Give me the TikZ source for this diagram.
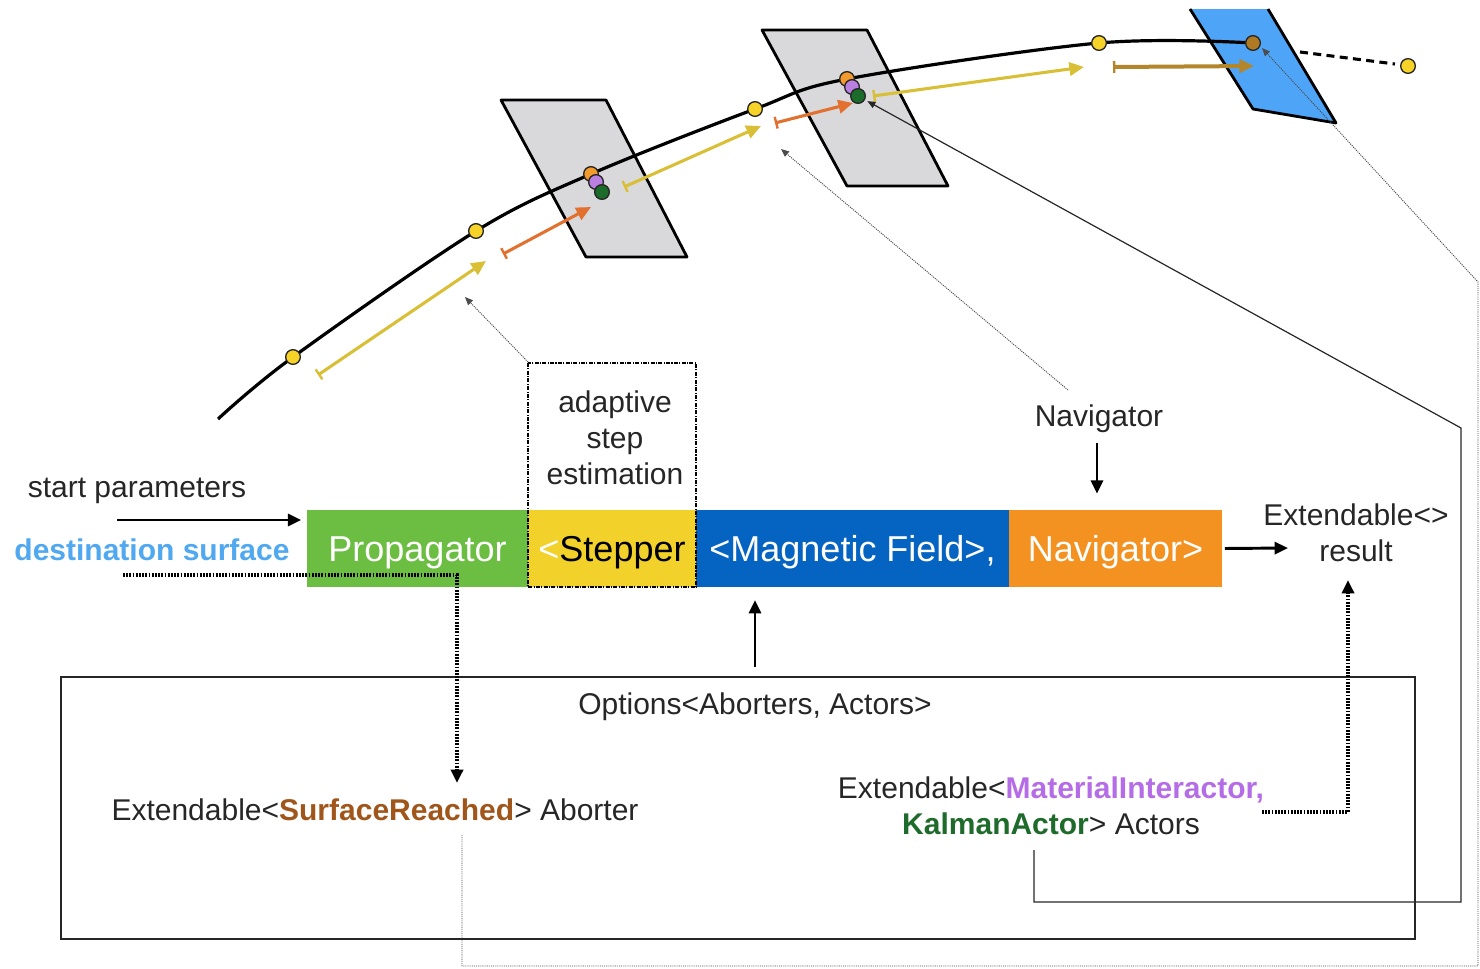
\documentclass[tikz,border=0pt]{standalone}
\usepackage{fontspec}
\setmainfont{Liberation Sans}
\usetikzlibrary{arrows.meta,calc}
\definecolor{pgreen}{HTML}{6CBE43}
\definecolor{pyellow}{HTML}{F2D12B}
\definecolor{pblue}{HTML}{0563C1}
\definecolor{porange}{HTML}{F39220}
\definecolor{destblue}{HTML}{4FA8F0}
\definecolor{brownT}{HTML}{A0561B}
\definecolor{purpleT}{HTML}{B46DE6}
\definecolor{greenT}{HTML}{1E6B2B}
\definecolor{ydot}{HTML}{F7D328}
\definecolor{stepY}{HTML}{D8BF35}
\definecolor{stepO}{HTML}{E2702F}
\definecolor{stepB}{HTML}{B3862B}
\definecolor{bdotc}{HTML}{B07A24}
\definecolor{pdotc}{HTML}{B980E0}
\definecolor{gdotc}{HTML}{1B6B2A}
\definecolor{odotc}{HTML}{F39A2C}
\definecolor{graysurf}{HTML}{D9D9DC}
\definecolor{bluesurf}{HTML}{4EA4F6}
\tikzset{
  lbl/.style={font=\fontsize{22.5}{27}\selectfont, inner sep=0pt, text=black!85},
  barbox/.style={rectangle, inner sep=0pt, minimum height=57.75pt, text height=20pt, text depth=1pt, font=\fontsize{27}{32}\selectfont, text=white},
  dotnode/.style={circle, draw=black!85, line width=1pt, minimum size=11pt, inner sep=0pt},
  surfline/.style={draw=black, line width=2.1pt, line join=round},
  traj/.style={draw=black, line width=2.4pt},
  bigarrow/.style={draw=black, line width=2.2pt, -{Triangle[length=10pt,width=9pt]}},
  bigdots/.style={draw=black, line width=2.8pt, dash pattern=on 1.3pt off 1.1pt, -{Triangle[length=10pt,width=9pt]}},
  stepar/.style={line width=2.3pt, {Bar[width=9pt,line width=1.8pt]}-{Triangle[length=11pt,width=10pt]}},
  thinline/.style={draw=black!85, line width=0.9pt},
  graydot/.style={draw=black!70, line width=0.7pt, dash pattern=on 0.8pt off 0.8pt},
  smalltip/.style={-{Triangle[length=6pt,width=5pt]}}
}
\begin{document}
\begin{tikzpicture}[x=0.75pt,y=-0.75pt]
\useasboundingbox (0,0) rectangle (1480,968);

% ---- surfaces ----
\fill[graysurf] (501,100) -- (606,100) -- (687,257) -- (586,257) -- cycle;
\draw[surfline] (501,100) -- (606,100) -- (687,257) -- (586,257) -- cycle;
\fill[graysurf] (762,30) -- (867,30) -- (948,186) -- (847,186) -- cycle;
\draw[surfline] (762,30) -- (867,30) -- (948,186) -- (847,186) -- cycle;
\fill[bluesurf] (1190,9) -- (1268,9) -- (1336,123) -- (1253,109) -- cycle;
\draw[surfline] (1190,9) -- (1253,109) -- (1336,123) -- (1268,9);

% ---- trajectory ----
\draw[traj] plot[smooth, tension=0.55] coordinates {(218,419) (293,357) (476,231) (591,174) (755,109) (847,79) (1099,43) (1253,43)};
\draw[black, line width=2.3pt, dash pattern=on 6pt off 4pt] (1300,52) -- (1395,64);

% ---- dots ----
\node[dotnode, fill=ydot] (y1) at (293,357) {};
\node[dotnode, fill=ydot] (y2) at (476,231) {};
\node[dotnode, fill=ydot] (y3) at (755,109) {};
\node[dotnode, fill=ydot] (y4) at (1099,43) {};
\node[dotnode, fill=ydot] (y5) at (1408,66) {};
\node[dotnode, fill=odotc] (o1) at (591,174) {};
\node[dotnode, fill=pdotc] (p1) at (596,182) {};
\node[dotnode, fill=gdotc] (g1) at (602,192) {};
\node[dotnode, fill=odotc] (o2) at (847,79) {};
\node[dotnode, fill=pdotc] (p2) at (852,87) {};
\node[dotnode, fill=gdotc] (g2) at (858,96) {};
\node[dotnode, fill=bdotc] (bd) at (1253,43) {};

% ---- step arrows ----
\coordinate (s1a) at (318,375); \coordinate (s1b) at (486,261);
\coordinate (s2a) at (503,254); \coordinate (s2b) at (591,207);
\coordinate (s3a) at (624,187); \coordinate (s3b) at (761,126);
\coordinate (s4a) at (775,123); \coordinate (s4b) at (853,103);
\coordinate (s5a) at (873,96);  \coordinate (s5b) at (1084,67);
\coordinate (s6a) at (1113,67); \coordinate (s6b) at (1254,66);
\draw[stepar, stepY] (s1a) -- (s1b);
\draw[stepar, stepO] (s2a) -- (s2b);
\draw[stepar, stepY] (s3a) -- (s3b);
\draw[stepar, stepO] (s4a) -- (s4b);
\draw[stepar, stepY] (s5a) -- (s5b);
\draw[stepar, stepB, line width=3pt] (s6a) -- (s6b);

% ---- bar ----
\node[barbox, fill=pgreen, minimum width=166pt] (prop) at (417.5,548.5) {Propagator};
\node[barbox, fill=pyellow, minimum width=126pt, text=black] (step) at (612,548.5) {{\color{white}<}Stepper};
\node[barbox, fill=pblue, minimum width=234.75pt] (mag) at (852.5,548.5) {<Magnetic Field>,};
\node[barbox, fill=porange, minimum width=159.75pt] (nav) at (1115.5,548.5) {Navigator>};

% adaptive step estimation box
\draw[black, line width=0.8pt, dash pattern=on 3pt off 1pt on 0.8pt off 1pt] (528,363) rectangle (696,587);
\node[lbl, align=center] (ase) at (615,438) {adaptive\\step\\estimation};

% ---- labels left ----
\node[lbl] (sp) at (137,491) {start parameters};
\node[lbl, font=\fontsize{22.5}{27}\selectfont\bfseries, text=destblue] (ds) at (152,550) {destination surface};
\coordinate (spA) at (117,520);
\draw[bigarrow, shorten >=4pt] (spA) -- (spA -| prop.west);

% ---- navigator label ----
\node[lbl] (navl) at (1099,419) {Navigator};
\coordinate (navA) at (1097,443);
\draw[bigarrow, shorten >=12pt] (navA) -- (navA |- nav.north);

% ---- result ----
\node[lbl, align=center] (res) at (1356,533) {Extendable<>\\result};
\coordinate (resA) at (1288,548);
\draw[bigarrow, shorten <=2pt] (nav.east) -- (resA);

% ---- options box ----
\draw[black!85, line width=1.4pt] (61,677) rectangle (1415,939);
\node[lbl] (opt) at (755,707) {Options<Aborters, Actors>};
\coordinate (optA) at (755,667);
\coordinate (optB) at (755,600);
\draw[bigarrow] (optA) -- (optB);

\node[lbl] (abort) at (375,810) {Extendable<{\bfseries\color{brownT}SurfaceReached}> Aborter};
\node[lbl, align=center] (act) at (1051,806) {Extendable<{\bfseries\color{purpleT}MaterialInteractor,}\\{\bfseries\color{greenT}KalmanActor}> Actors};

% destination surface dotted arrow
\coordinate (d1) at (123,575); \coordinate (d2) at (457,575); \coordinate (d3) at (457,783);
\draw[bigdots] (d1) -- (d2) -- (d3);
% actors -> result dotted arrow
\coordinate (r1) at (1262,812); \coordinate (r2) at (1348,812); \coordinate (r3) at (1348,580);
\draw[bigdots] (r1) -- (r2) -- (r3);

% actors -> green dot 2 thin line
\coordinate (k1) at (1034,850); \coordinate (k2) at (1034,902);
\coordinate (k3) at (1461,902); \coordinate (k4) at (1461,428);
\draw[thinline, smalltip, shorten >=2pt] (k1) -- (k2) -- (k3) -- (k4) -- (g2);

% gray dotted pointers
\coordinate (q1) at (528,362); \coordinate (q2) at (465,297);
\draw[graydot, smalltip] (q1) -- (q2);
\coordinate (q3) at (1068,390); \coordinate (q4) at (781,149);
\draw[graydot, smalltip] (q3) -- (q4);
\coordinate (w1) at (462,835); \coordinate (w2) at (462,966);
\coordinate (w3) at (1478,966); \coordinate (w4) at (1478,282);
\coordinate (w5) at (1262,48);
\draw[graydot, smalltip] (w1) -- (w2) -- (w3) -- (w4) -- (w5);
\end{tikzpicture}
\end{document}
